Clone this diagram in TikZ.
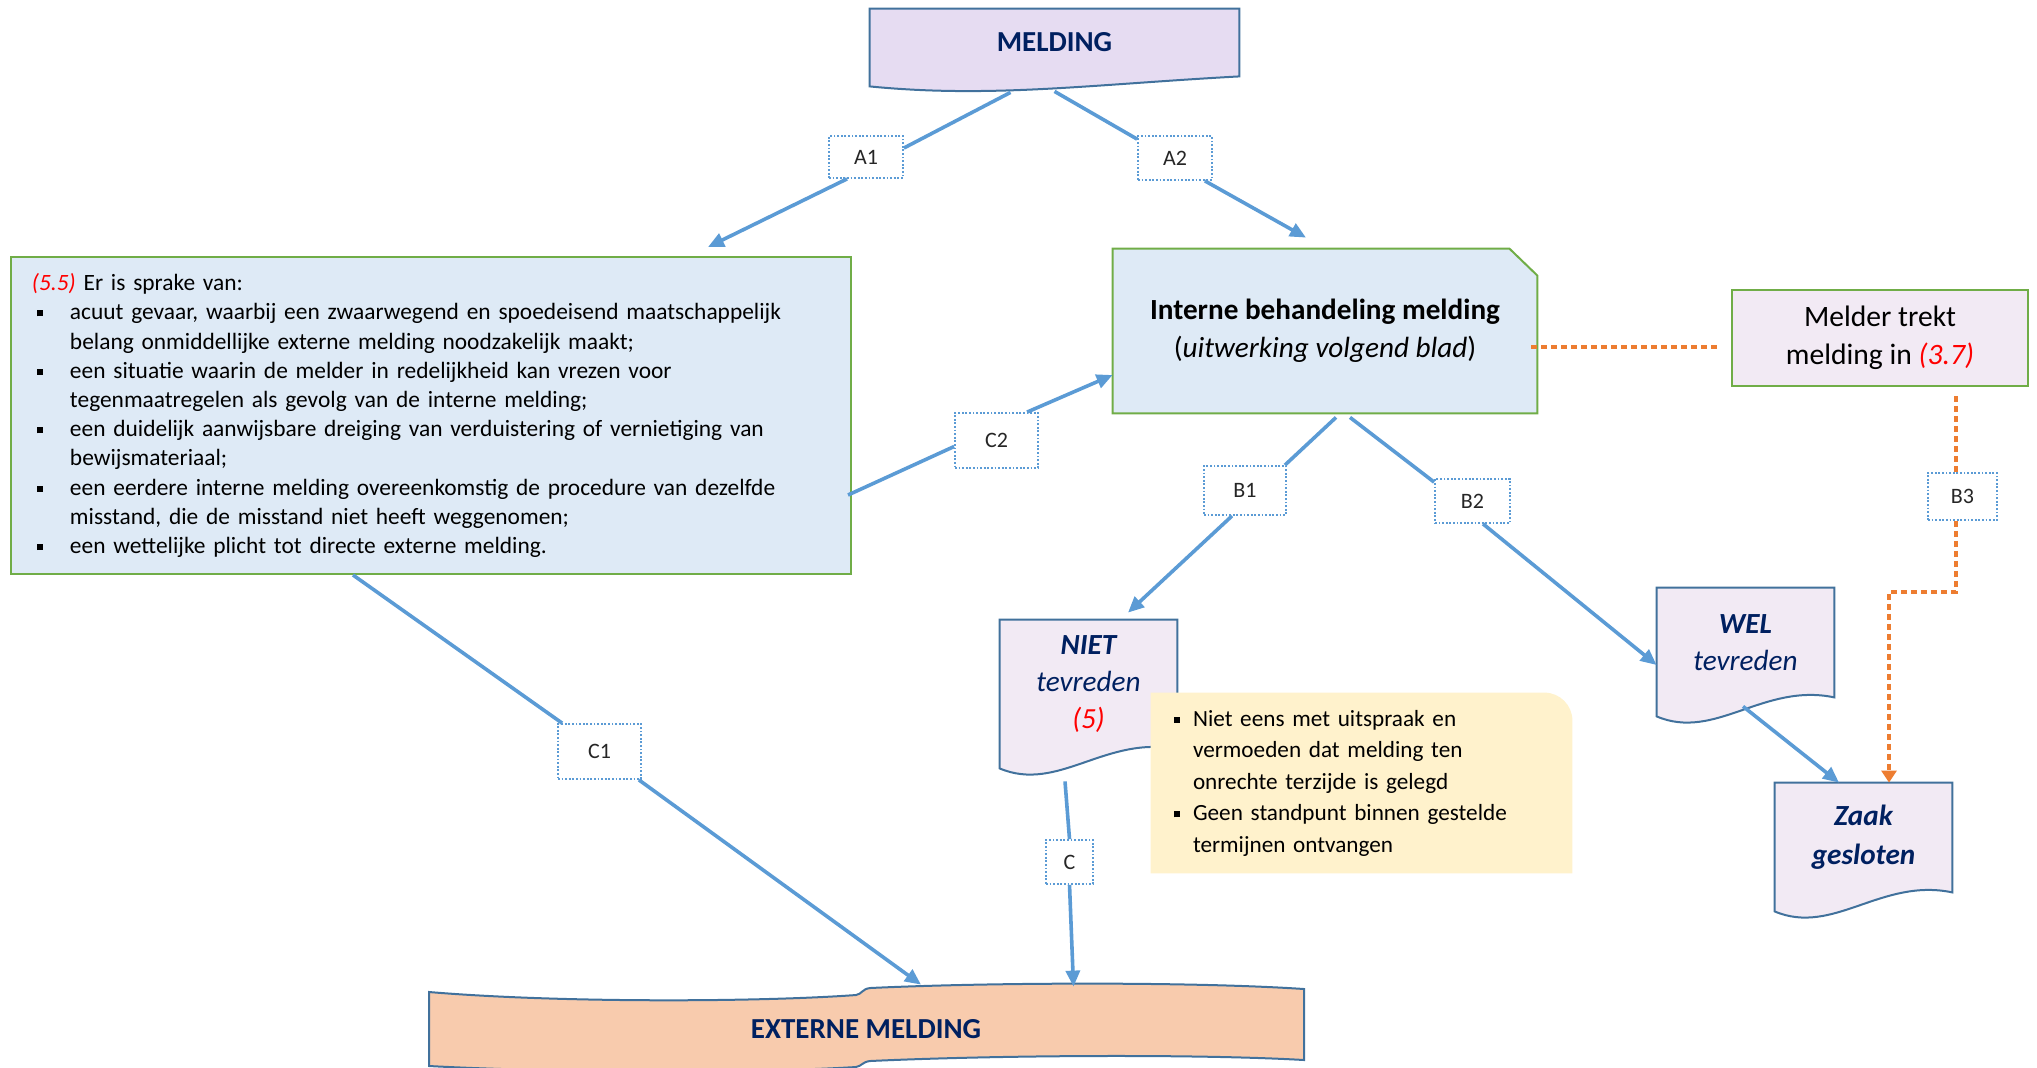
\documentclass[tikz,border=0pt]{standalone}
\usepackage{fontspec}
\setmainfont{Carlito}
\usepackage{xcolor}
\usepackage{tikz}
\usetikzlibrary{arrows.meta,calc,backgrounds}

\definecolor{lineblue}{HTML}{5B9BD5}
\definecolor{edgeblue}{HTML}{41719C}
\definecolor{navytext}{HTML}{002060}
\definecolor{boxgreen}{HTML}{70AD47}
\definecolor{paleblue}{HTML}{DEEAF6}
\definecolor{lilac}{HTML}{E6DCF2}
\definecolor{palelilac}{HTML}{F2EAF4}
\definecolor{noteyellow}{HTML}{FFF2CC}
\definecolor{peach}{HTML}{F8CBAD}
\definecolor{dotorange}{HTML}{ED7D31}

\newcommand{\sqb}{\rule[0.3ex]{3pt}{3pt}}
\newcommand{\litem}{\makebox[19pt][l]{\hspace*{2.5pt}\sqb}}
\newcommand{\nitem}{\makebox[9.5pt][l]{\sqb}}
% document outline with a wavy bottom: node, drop, dip, bulge
\newcommand{\docwave}[4]{(#1.north west) -- (#1.north east) -- (#1.south east)
  .. controls ($(#1.south west)!0.6!(#1.south east)+(0pt,#4)$)
  and ($(#1.south west)!0.33!(#1.south east)+(0pt,#3)$) .. ([yshift=-#2]#1.south west) -- cycle}

\begin{document}
\begin{tikzpicture}[
    x=0.5pt, y=-0.5pt,
    >={Triangle[length=8pt,width=7pt]},
    link/.style={line width=1.8pt, draw=lineblue},
    arrow/.style={link, ->},
    orangelink/.style={line width=2pt, draw=dotorange, dash pattern=on 3pt off 2pt},
    orangearrow/.style={orangelink, -{Triangle[length=6pt,width=7.5pt]}},
    lbl/.style={rectangle, draw=lineblue, fill=white, line width=0.9pt, dash pattern=on 0.9pt off 0.9pt, inner sep=0pt, font=\fontsize{11}{13}\selectfont, text=black!85},
    leftbox/.style={rectangle, draw=boxgreen, fill=paleblue, line width=1pt, align=left, inner xsep=10.5pt, inner ysep=0pt, font=\fontsize{11.7}{14.6}\selectfont},
    notebox/.style={rectangle, align=left, inner xsep=11.5pt, inner ysep=0pt, font=\fontsize{11.6}{15.75}\selectfont},
    intbox/.style={rectangle, inner sep=0pt, align=center, font=\fontsize{14.6}{19}\selectfont},
    melderbox/.style={rectangle, draw=boxgreen, fill=palelilac, line width=1pt, inner sep=0pt, align=center, font=\fontsize{14.8}{18.8}\selectfont},
    docnode/.style={rectangle, inner sep=0pt, align=center, minimum width=88.5pt, text=navytext, font=\itshape\fontsize{14.6}{18.5}\selectfont},
    docshape/.style={fill=palelilac, draw=edgeblue, line width=1pt},
    greenshape/.style={fill=paleblue, draw=boxgreen, line width=1pt}
]
\useasboundingbox (0,0) rectangle (2037,1067);

% Top: incoming report
\node[docnode, font=\bfseries\fontsize{14.5}{17}\selectfont, minimum width=184.5pt, minimum height=33.5pt] (melding) at (1054.5,42.5) {MELDING};
\node[lbl, minimum width=37pt, minimum height=21pt] (A1) at (866,157) {A1};
\node[lbl, minimum width=37pt, minimum height=22pt] (A2) at (1175,158) {A2};

% Left: grounds for direct external report
\node[leftbox, text width=399pt, minimum height=158.5pt] (grounds) at (431,415.5) {%
{\color{red}\itshape(5.5)} Er is sprake van:\\
\litem acuut gevaar, waarbij een zwaarwegend en spoedeisend maatschappelijk\\
\hspace*{19pt}belang onmiddellijke externe melding noodzakelijk maakt;\\
\litem een situatie waarin de melder in redelijkheid kan vrezen voor\\
\hspace*{19pt}tegenmaatregelen als gevolg van de interne melding;\\
\litem een duidelijk aanwijsbare dreiging van verduistering of vernietiging van\\
\hspace*{19pt}bewijsmateriaal;\\
\litem een eerdere interne melding overeenkomstig de procedure van dezelfde\\
\hspace*{19pt}misstand, die de misstand niet heeft weggenomen;\\
\litem een wettelijke plicht tot directe externe melding.};
\node[lbl, minimum width=41.5pt, minimum height=27.5pt] (C1) at (599.5,751.5) {C1};
\node[lbl, minimum width=41.5pt, minimum height=27.5pt] (C2) at (996.5,440.5) {C2};

% Middle: internal handling and outcomes
\node[intbox, minimum width=212pt, minimum height=82pt] (interne) at (1325,331) {\textbf{Interne behandeling melding}\\(\textit{uitwerking volgend blad})};
\node[lbl, minimum width=41pt, minimum height=24.5pt] (B1) at (1245,490.5) {B1};
\node[lbl, minimum width=37.5pt, minimum height=22pt] (B2) at (1472.5,501) {B2};
\node[docnode, minimum height=64.5pt] (niet) at (1088.5,684.5) {\textbf{NIET}\\tevreden\\{\color{red}(5)}};
\node[notebox, text width=187.5pt, minimum height=90pt] (note) at (1361.5,783) {%
\nitem Niet eens met uitspraak en\\
\hspace*{9.5pt}vermoeden dat melding ten\\
\hspace*{9.5pt}onrechte terzijde is gelegd\\
\nitem Geen standpunt binnen gestelde\\
\hspace*{9.5pt}termijnen ontvangen};
\node[lbl, minimum width=23.5pt, minimum height=22pt] (C) at (1069.5,862) {C};

% Right: withdrawal and closed case
\node[melderbox, minimum width=148pt, minimum height=48pt] (melder) at (1880,338) {Melder trekt\\melding in {\color{red}\itshape(3.7)}};
\node[lbl, minimum width=34.5pt, minimum height=23.5pt] (B3) at (1962.5,496.5) {B3};
\node[docnode, minimum height=54.5pt] (wel) at (1745.5,642.5) {\textbf{WEL}\\tevreden};
\node[docnode, font=\bfseries\itshape\fontsize{14.6}{19.5}\selectfont, minimum height=54.5pt] (zaak) at (1863.5,837.5) {Zaak\\gesloten};

% Bottom: external report
\node[docnode, font=\bfseries\fontsize{14.5}{17}\selectfont, minimum width=437.5pt, minimum height=41pt] (externe) at (866,1029) {EXTERNE MELDING};

% Shapes behind the texts
\begin{scope}[on background layer]
  \filldraw[docshape, fill=lilac] \docwave{melding}{5pt}{-11pt}{-4pt};
  \filldraw[greenshape] (interne.south west) |- ([xshift=-14pt]interne.north east) -- ([yshift=-13.5pt]interne.north east) -- (interne.south east) -- cycle;
  \filldraw[docshape] \docwave{niet}{9.5pt}{-21.9pt}{7.5pt};
  \fill[noteyellow] (note.south west) |- ([xshift=-14pt]note.north east) arc[start angle=90, end angle=0, radius=14pt] |- (note.south west) -- cycle;
  \filldraw[docshape] \docwave{wel}{9.5pt}{-21.9pt}{7.5pt};
  \filldraw[docshape] \docwave{zaak}{9.5pt}{-21.9pt}{7.5pt};
  \filldraw[docshape, fill=peach] (429,992) .. controls (560,1003) and (760,1002) .. (856,995)
    .. controls (862,994) and (862,989) .. (870,988) .. controls (1000,982) and (1200,982) .. (1304,989)
    -- (1304,1060) .. controls (1200,1054) and (1000,1055) .. (870,1061)
    .. controls (862,1062) and (862,1066) .. (856,1067) .. controls (760,1073) and (560,1073) .. (429,1066) -- cycle;
\end{scope}

% A: melding to either route
\draw[link] ([xshift=-22pt,yshift=-8pt]melding.south) -- ([yshift=4.5pt]A1.east);
\draw[arrow] ([xshift=-9.5pt]A1.south) -- ([xshift=138.5pt,yshift=4.5pt]grounds.north);
\draw[link] ([yshift=-7.5pt]melding.south) -- ([yshift=-2pt]A2.north west);
\draw[arrow] ([xshift=-4pt]A2.south east) -- ([xshift=-9.5pt,yshift=5.5pt]interne.north);

% C: towards external report
\draw[link] ([xshift=-39pt]grounds.south) -- ([xshift=2.5pt]C1.north west);
\draw[arrow] ([xshift=-1.5pt]C1.south east) -- ([xshift=27.5pt,yshift=1.5pt]externe.north);
\draw[link] ([xshift=-2pt,yshift=-39.75pt]grounds.east) -- ([yshift=-3pt]C2.west);
\draw[arrow] ([xshift=15.25pt]C2.north) -- ([yshift=-22pt]interne.west);

% B: outcome of internal handling
\draw[link] ([xshift=5.5pt,yshift=-2pt]interne.south) -- ([xshift=-1pt]B1.north east);
\draw[arrow] ([xshift=-6.5pt]B1.south) -- ([xshift=19.75pt,yshift=3.5pt]niet.north);
\draw[link] ([xshift=12.5pt,yshift=-2pt]interne.south) -- ([yshift=-2pt]B2.north west);
\draw[arrow] ([xshift=5.25pt]B2.south) -- ([yshift=-11.25pt]wel.west);
\draw[arrow] ([xshift=-1.25pt,yshift=-4.5pt]wel.south) -- ([xshift=-12.25pt]zaak.north);
\draw[link] ([xshift=-11.75pt,yshift=-16pt]niet.south) -- (C.north);
\draw[arrow] (C.south) -- ([xshift=103.75pt,yshift=0.5pt]externe.north);

% Withdrawal
\draw[orangelink] ([xshift=-3pt,yshift=-8pt]interne.east) -- ([xshift=-5pt,yshift=-4.5pt]melder.west);
\draw[orangelink] ([xshift=38pt,yshift=-4.5pt]melder.south) -- ([xshift=-3.25pt]B3.north);
\draw[orangearrow] ([xshift=-3.25pt]B3.south) -- ++(0,71) -| ([xshift=12.75pt]zaak.north);

\end{tikzpicture}
\end{document}
